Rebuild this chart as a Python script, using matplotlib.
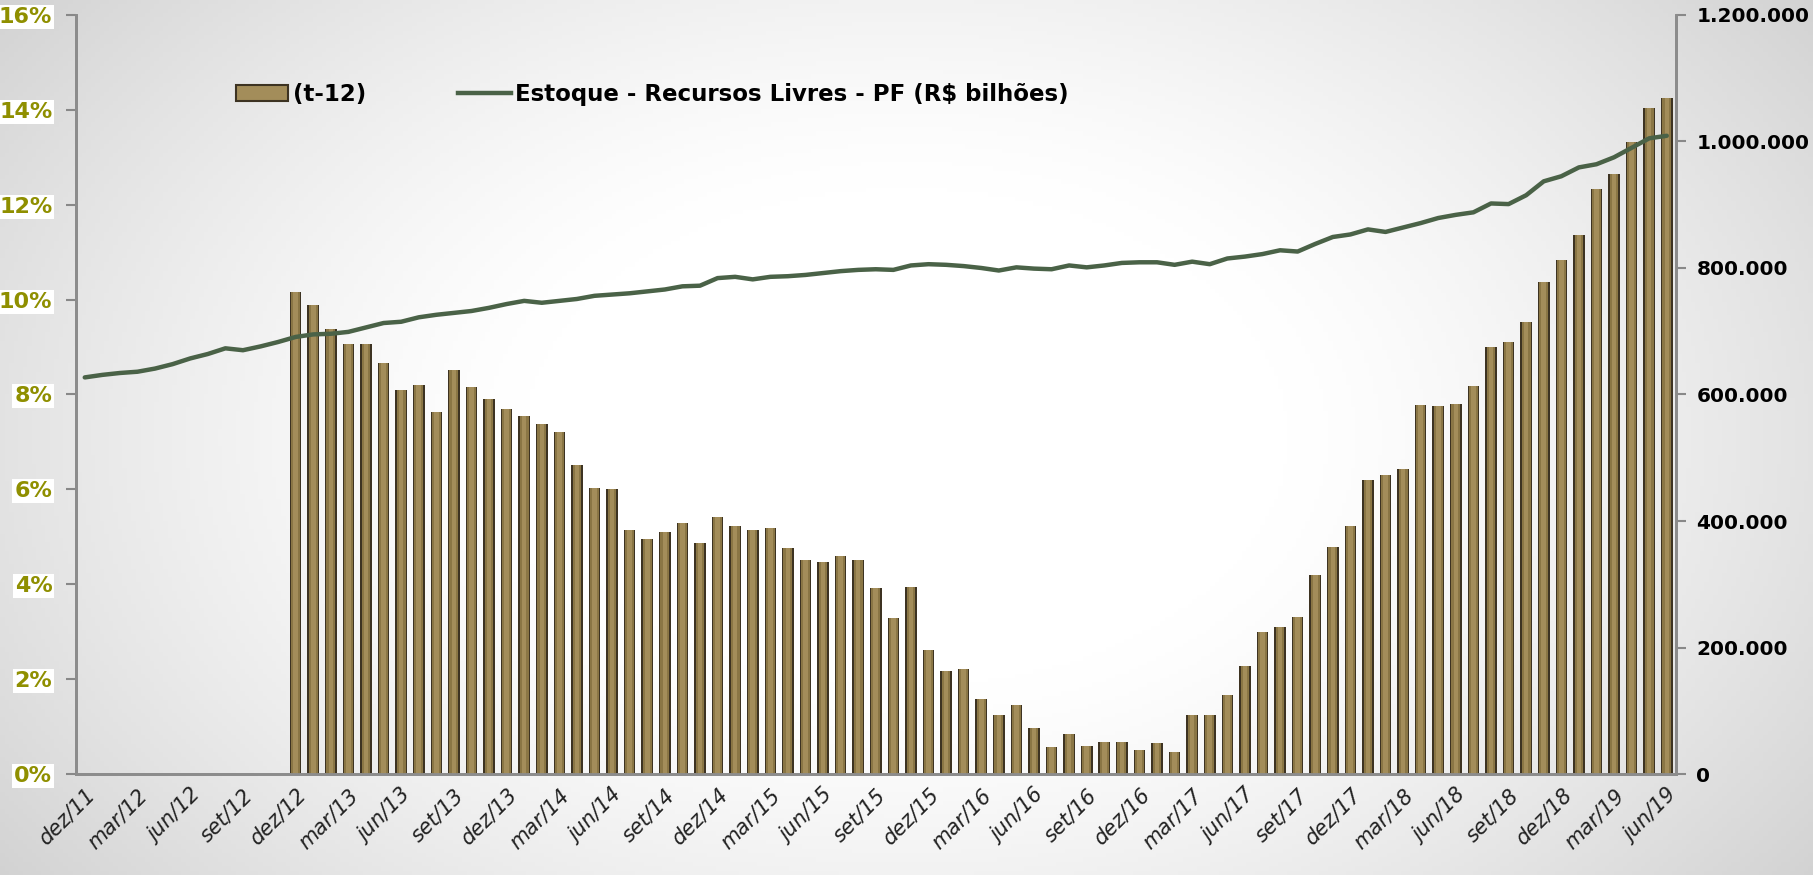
import numpy as np
import matplotlib
matplotlib.use("Agg")
import matplotlib.pyplot as plt
from matplotlib.patches import Patch
from matplotlib.lines import Line2D
from matplotlib.ticker import FuncFormatter

# months dez/11 .. jun/19
meses = ['dez', 'jan', 'fev', 'mar', 'abr', 'mai', 'jun', 'jul', 'ago', 'set', 'out', 'nov']
labels = []
for i in range(91):
    m = meses[i % 12]
    yr = 11 + (i + 11) // 12
    labels.append('%s/%02d' % (m, yr))

# crescimento (t-12), % -- starts dez/12
taxa = [10.15, 9.88, 9.39, 9.07, 9.07, 8.66, 8.10, 8.20, 7.63, 8.51,
        8.15, 7.90, 7.70, 7.54, 7.37, 7.20, 6.51, 6.02, 6.00, 5.15,
        4.95, 5.10, 5.29, 4.88, 5.41, 5.22, 5.15, 5.19, 4.76, 4.51,
        4.46, 4.59, 4.51, 3.93, 3.29, 3.95, 2.61, 2.17, 2.22, 1.59,
        1.24, 1.46, 0.98, 0.56, 0.85, 0.59, 0.68, 0.68, 0.51, 0.66,
        0.46, 1.25, 1.25, 1.66, 2.27, 3.00, 3.10, 3.31, 4.20, 4.79,
        5.23, 6.20, 6.31, 6.44, 7.77, 7.75, 7.79, 8.17, 9.00, 9.10,
        9.52, 10.38, 10.84, 11.36, 12.33, 12.65, 13.33, 14.03, 14.24]
taxa_idx = list(range(12, 91))

# estoque, R$ mil (thousands -> *1000)
estoque = [627, 631, 634, 636, 641, 648, 657, 664, 673, 670,
           676, 683, 691, 695, 696, 699, 706, 713, 715, 722,
           726, 729, 732, 737, 743, 748, 745, 748, 751, 756,
           758, 760, 763, 766, 771, 772, 784, 786, 782, 786,
           787, 789, 792, 795, 797, 798, 797, 804, 806, 805,
           803, 800, 796, 801, 799, 798, 804, 801, 804, 808,
           809, 809, 805, 810, 806, 815, 818, 822, 828, 826,
           838, 849, 853, 861, 857, 864, 871, 879, 884, 888,
           902, 901, 915, 937, 945, 959, 964, 975, 990, 1005, 1009]
estoque = [v * 1000 for v in estoque]

olive = '#8f8f00'
linecol = '#4a6247'
W, H = 1813, 875
fig = plt.figure(figsize=(W / 100, H / 100), dpi=100)

# background: soft radial grey gradient
bg = fig.add_axes([0, 0, 1, 1], zorder=-10)
yy, xx = np.mgrid[-1:1:200j, -1:1:400j]
r = np.sqrt((xx * 0.95) ** 2 + (yy * 0.7) ** 2)
shade = 1.0 - 0.24 * np.clip(r - 0.4, 0, None) ** 1.3
bg.imshow(np.dstack([shade] * 3), aspect='auto', extent=[0, 1, 0, 1])
bg.axis('off')

ax = fig.add_axes([0.0419, 0.1154, 0.8823, 0.8675])
ax.patch.set_alpha(0)
ax2 = ax.twinx()

# bars with a simple bevel look
ax.bar(taxa_idx, taxa, width=0.66, color='#3d3322', zorder=2)
ax.bar(taxa_idx, taxa, width=0.50, color='#8a7645', zorder=3)
ax.bar(taxa_idx, taxa, width=0.26, color='#a38d5a', zorder=4)

ax2.plot(range(91), estoque, color=linecol, lw=3.2, solid_capstyle='round', zorder=5)

ax.set_xlim(-0.5, 90.5)
ax.set_ylim(0, 16)
ax2.set_ylim(0, 1200000)
ax.set_yticks(range(0, 17, 2))
ax.yaxis.set_major_formatter(FuncFormatter(lambda v, p: '%d%%' % v))
ax2.set_yticks(range(0, 1200001, 200000))
ax2.yaxis.set_major_formatter(FuncFormatter(lambda v, p: '{:,.0f}'.format(v).replace(',', '.')))

ax.set_xticks(range(0, 91, 3))
ax.set_xticklabels(labels[::3], rotation=45, ha='right', rotation_mode='anchor',
                   fontsize=15, style='italic', color='#222222')
ax.tick_params(axis='x', length=0, pad=8)
ax.tick_params(axis='y', length=7, width=1.5, color='#888888', pad=10)
ax2.tick_params(axis='y', length=7, width=1.5, color='#888888', pad=8)

for lab in ax.get_yticklabels():
    lab.set_color(olive)
    lab.set_fontweight('bold')
    lab.set_fontsize(16)
    lab.set_bbox(dict(facecolor='white', edgecolor='none', pad=1.5))
for lab in ax2.get_yticklabels():
    lab.set_fontweight('bold')
    lab.set_fontsize(14.5)

for a in (ax, ax2):
    a.spines['top'].set_visible(False)
    for s in ['left', 'right', 'bottom']:
        a.spines[s].set_color('#8c8c8c')
        a.spines[s].set_linewidth(2)

handles = [Patch(facecolor='#a38d5a', edgecolor='#3d3322', linewidth=1.5),
           Line2D([0], [0], color=linecol, lw=3.2)]
leg = ax.legend(handles, ['(t-12)', 'Estoque - Recursos Livres - PF (R$ bilhões)'],
                loc='upper left', bbox_to_anchor=(0.087, 0.937), ncol=2, frameon=False,
                prop={'weight': 'bold', 'size': 16.5}, columnspacing=4.0,
                handlelength=2.3, handletextpad=0.2)

fig.savefig('out.png', dpi=100)
